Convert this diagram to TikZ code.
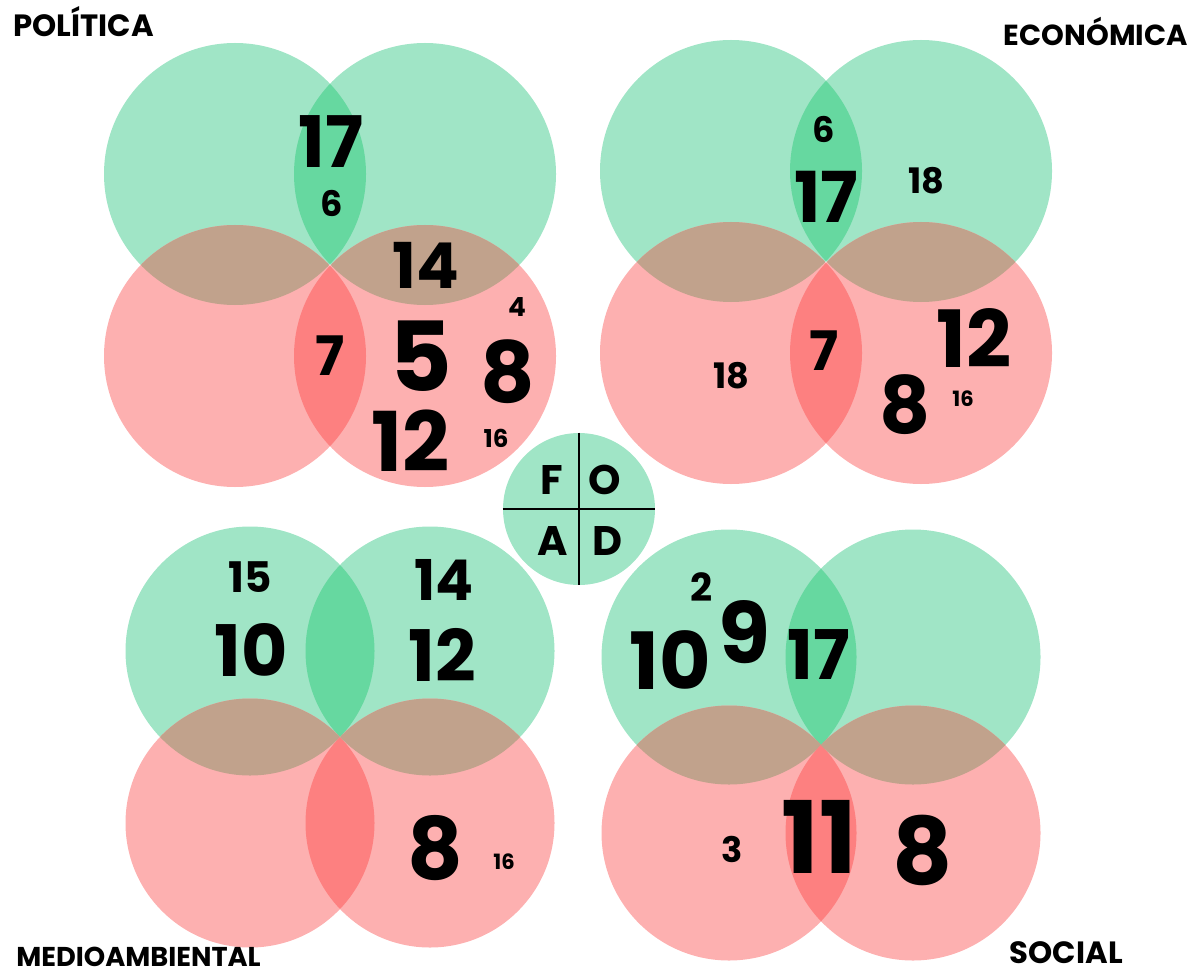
\documentclass[tikz,border=0pt]{standalone}
\usepackage{fontspec}
\setmainfont{Poppins}
\newcommand{\fs}[1]{\fontsize{#1}{#1}\selectfont}
\definecolor{gcirc}{RGB}{160,229,198}
\definecolor{glens}{RGB}{102,216,160}
\definecolor{rcirc}{RGB}{253,176,176}
\definecolor{rlens}{RGB}{253,128,128}
\definecolor{mixlens}{RGB}{193,162,140}
\begin{document}
\begin{tikzpicture}[x=0.02cm,y=-0.02cm,
  num/.style={font=\bfseries,inner sep=0pt},
  title/.style={font=\bfseries,inner sep=0pt}]
\useasboundingbox (0,0) rectangle (1195,976);
% four groups: meeting point, half spacing, radius
\foreach \cx/\cy/\dx/\dy/\r in {330/265/95/91/131, 826/262/95/91/131, 340/737/90/86/124.5, 821/745/92/88/127.5}{
  \fill[gcirc] (\cx-\dx,\cy-\dy) circle (\r) (\cx+\dx,\cy-\dy) circle (\r);
  \fill[rcirc] (\cx-\dx,\cy+\dy) circle (\r) (\cx+\dx,\cy+\dy) circle (\r);
  \begin{scope}
    \clip (\cx-\dx,\cy-\dy) circle (\r);
    \fill[glens] (\cx+\dx,\cy-\dy) circle (\r);
    \fill[mixlens] (\cx-\dx,\cy+\dy) circle (\r);
  \end{scope}
  \begin{scope}
    \clip (\cx+\dx,\cy+\dy) circle (\r);
    \fill[rlens] (\cx-\dx,\cy+\dy) circle (\r);
    \fill[mixlens] (\cx+\dx,\cy-\dy) circle (\r);
  \end{scope}
}

% titles
\node[title,anchor=base west] (pol) at (13,37) {\fs{17.5}POLÍTICA};
\node[title,anchor=base east] (eco) at (1188,46) {\fs{16.5}ECONÓMICA};
\node[title,anchor=base west] (med) at (16,966) {\fs{15.5}MEDIOAMBIENTAL};
\node[title,anchor=base east] (soc) at (1123,963) {\fs{17.5}SOCIAL};

% FOAD key
\node[circle,fill=gcirc,minimum size=3.04cm,inner sep=0pt] (foad) at (579,509) {};
\draw[line width=1pt] (foad.north) -- (foad.south);
\draw[line width=1pt] (foad.west) -- (foad.east);
\node[num] (kf) at (552,480) {\fs{23.5}F};
\node[num] (ko) at (605,480) {\fs{23.5}O};
\node[num] (ka) at (553,541) {\fs{23.5}A};
\node[num] (kd) at (607,541) {\fs{23.5}D};

% politica
\node[num] (p17) at (331,142) {\fs{40.5}17};
\node[num] (p6) at (332,203) {\fs{20}6};
\node[num] (p14) at (426,265) {\fs{36}14};
\node[num] (p4) at (517,307) {\fs{15}4};
\node[num] (p7) at (330,356) {\fs{31}7};
\node[num] (p5) at (421,356) {\fs{55}5};
\node[num] (p8) at (508,372) {\fs{48}8};
\node[num] (p12) at (411,441) {\fs{47}12};
\node[num] (p16) at (496,438) {\fs{14}16};

% economica
\node[num] (e6) at (824,129) {\fs{20}6};
\node[num] (e17) at (826,197) {\fs{40}17};
\node[num] (e18a) at (926,181) {\fs{20}18};
\node[num] (e18b) at (731,376) {\fs{20}18};
\node[num] (e7) at (824,351) {\fs{31}7};
\node[num] (e12) at (974,338) {\fs{45}12};
\node[num] (e8) at (905,405) {\fs{45}8};
\node[num] (e16) at (963,399) {\fs{12}16};

% medioambiental
\node[num] (m15) at (250,577) {\fs{24}15};
\node[num] (m10) at (251,650) {\fs{40.5}10};
\node[num] (m14) at (444,580) {\fs{32}14};
\node[num] (m12) at (442,655) {\fs{40.5}12};
\node[num] (m8) at (435,848) {\fs{49}8};
\node[num] (m16) at (504,862) {\fs{12}16};

% social
\node[num] (s2) at (702,587) {\fs{22}2};
\node[num] (s9) at (744,632) {\fs{48}9};
\node[num] (s10) at (670,660) {\fs{45}10};
\node[num] (s17) at (819,654) {\fs{39}17};
\node[num] (s3) at (732,849) {\fs{20}3};
\node[num] (s11) at (819,837) {\fs{57}11};
\node[num] (s8) at (923,850) {\fs{53}8};
\end{tikzpicture}
\end{document}
